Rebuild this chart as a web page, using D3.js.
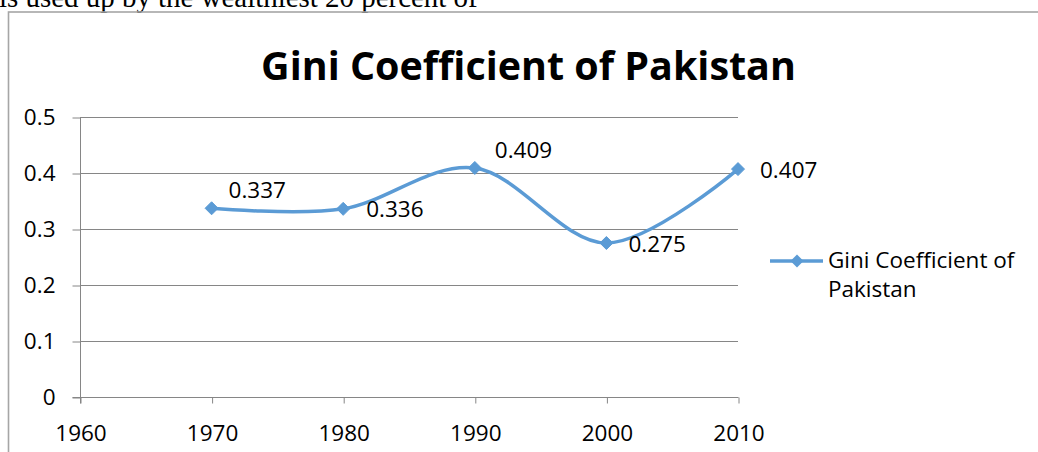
<!DOCTYPE html>
<html>
<head>
<meta charset="utf-8">
<script src="https://cdn.jsdelivr.net/npm/d3@7"></script>
<style>
  body { margin: 0; background: #fff; overflow: hidden; }
  svg { display: block; }
</style>
</head>
<body>
<svg></svg>
<script>
var width = 1038;
var height = 452;

// data
var years = [1970, 1980, 1990, 2000, 2010];
var gini = [0.337, 0.336, 0.409, 0.275, 0.407];
var xTicks = [1960, 1970, 1980, 1990, 2000, 2010];
var yTicks = [0, 0.1, 0.2, 0.3, 0.4, 0.5];
var seriesName = "Gini Coefficient of Pakistan";
var legendLines = ["Gini Coefficient of", "Pakistan"];

// label placement next to each point (dx, baseline dy)
var labelOffsets = [[17, -10], [23, 8], [20, -10], [22, 9], [22, 9]];

var blue = "#5B9BD5";
var grid = "#868686";
var font = "'Open Sans', sans-serif";
var fs = 22.5;

var svg = d3.select("svg")
    .attr("width", width)
    .attr("height", height);

// shrink or grow a text so it spans a given width
function fitText(t, w) {
    var len = t.node().getComputedTextLength();
    var size = parseFloat(t.attr("font-size"));
    t.attr("font-size", size * w / len);
}

// the cut-off line of document text above the chart
var docText = svg.append("text")
    .text("is used up by the wealthiest 20 percent of")
    .attr("x", -1)
    .attr("y", 7)
    .attr("font-family", "'Liberation Serif', 'Times New Roman', serif")
    .attr("font-size", 26)
    .attr("fill", "#000");
fitText(docText, 479);

// chart frame
svg.append("rect")
    .attr("x", 8.5)
    .attr("y", 12)
    .attr("width", 1040)
    .attr("height", 460)
    .attr("fill", "none")
    .attr("stroke", "#a6a6a6")
    .attr("stroke-width", 1.6);

// title
var title = svg.append("text")
    .text(seriesName)
    .attr("x", 528.5)
    .attr("y", 80)
    .attr("text-anchor", "middle")
    .attr("font-family", font)
    .attr("font-weight", "bold")
    .attr("font-size", 40)
    .attr("fill", "#000");
fitText(title, 535);

var xScale = d3.scaleLinear()
    .domain([1960, 2010])
    .range([80, 738]);
var yScale = d3.scaleLinear()
    .domain([0, 0.5])
    .range([397, 117]);

// horizontal gridlines
svg.selectAll(".grid")
    .data(yTicks.filter(d => d > 0))
    .enter()
    .append("line")
        .attr("x1", xScale(1960))
        .attr("x2", xScale(2010))
        .attr("y1", d => Math.round(yScale(d)) + 0.5)
        .attr("y2", d => Math.round(yScale(d)) + 0.5)
        .attr("stroke", grid)
        .attr("stroke-width", 1);

// y axis
var yAxis = svg.append("g")
    .attr("transform", "translate(" + (xScale(1960) + 0.5) + ",0.5)")
    .call(d3.axisLeft(yScale)
        .tickValues(yTicks)
        .tickFormat(d => d === 0 ? "0" : d3.format(".1f")(d))
        .tickSize(8)
        .tickSizeOuter(0)
        .tickPadding(17));
yAxis.select(".domain").attr("stroke", grid).attr("d", "M0,0V286").attr("transform", "translate(0,117)");
yAxis.selectAll(".tick line").attr("stroke", grid);
yAxis.selectAll(".tick text")
    .attr("font-family", font)
    .attr("font-size", fs)
    .attr("fill", "#000");

// x axis
var xAxis = svg.append("g")
    .attr("transform", "translate(0.5," + (yScale(0) + 0.5) + ")")
    .call(d3.axisBottom(xScale)
        .tickValues(xTicks)
        .tickFormat(d3.format("d"))
        .tickSize(6)
        .tickSizeOuter(0)
        .tickPadding(22));
xAxis.select(".domain").attr("stroke", grid).attr("d", "M" + (xScale(1960) - 8) + ",0H" + xScale(2010));
xAxis.selectAll(".tick line").attr("stroke", grid);
xAxis.selectAll(".tick text")
    .attr("font-family", font)
    .attr("font-size", fs)
    .attr("fill", "#000");

// smoothed line
var points = years.map((y, i) => ({year: y, value: gini[i]}));
var line = d3.line()
    .x(d => xScale(d.year))
    .y(d => yScale(d.value))
    .curve(d3.curveCatmullRom.alpha(0));

svg.append("path")
    .datum(points)
    .attr("d", line)
    .attr("fill", "none")
    .attr("stroke", blue)
    .attr("stroke-width", 3.5)
    .attr("stroke-linecap", "round");

var diamond = "M0,-6.5L6.5,0L0,6.5L-6.5,0Z";

svg.selectAll(".marker")
    .data(points)
    .enter()
    .append("path")
        .attr("d", diamond)
        .attr("transform", d => "translate(" + xScale(d.year) + "," + yScale(d.value) + ")")
        .attr("fill", blue)
        .attr("stroke", blue)
        .attr("stroke-width", 1);

// data labels
svg.selectAll(".label")
    .data(points)
    .enter()
    .append("text")
        .text(d => d3.format(".3f")(d.value))
        .attr("x", (d, i) => xScale(d.year) + labelOffsets[i][0])
        .attr("y", (d, i) => yScale(d.value) + labelOffsets[i][1])
        .attr("font-family", font)
        .attr("font-size", fs)
        .attr("fill", "#000");

// legend
var legend = svg.append("g").attr("transform", "translate(770,261)");
legend.append("line")
    .attr("x1", 0)
    .attr("x2", 53)
    .attr("stroke", blue)
    .attr("stroke-width", 3.5);
legend.append("path")
    .attr("d", diamond)
    .attr("transform", "translate(27,0)")
    .attr("fill", blue);
legend.selectAll(".legtext")
    .data(legendLines)
    .enter()
    .append("text")
        .text(d => d)
        .attr("x", 58)
        .attr("y", (d, i) => 7 + i * 29)
        .attr("font-family", font)
        .attr("font-size", fs)
        .attr("fill", "#000");
</script>
</body>
</html>
